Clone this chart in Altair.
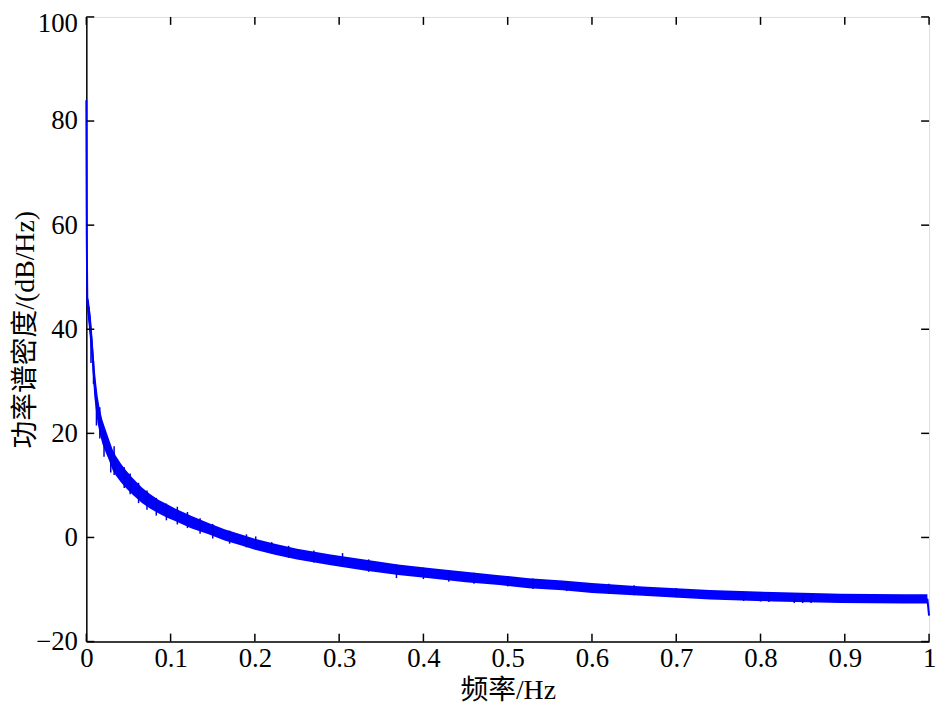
import altair as alt
import pandas as pd

# ---- data ----
band_freq = [0.0012, 0.003, 0.0055, 0.0075, 0.0095, 0.0115, 0.0135, 0.016, 0.019, 0.023,
             0.027, 0.031, 0.035, 0.041, 0.047, 0.055, 0.066, 0.076, 0.086, 0.096,
             0.106, 0.125, 0.145, 0.164, 0.184, 0.2, 0.225, 0.25, 0.29, 0.33,
             0.37, 0.41, 0.45, 0.49, 0.525, 0.565, 0.6, 0.66, 0.74, 0.815,
             0.895, 0.97, 0.998]
band_psd = [45, 43, 39, 35, 30, 27, 24.5, 22.3, 20.3, 18.5,
            16.8, 15, 13.8, 12.4, 11.2, 9.8, 8.1, 6.9, 5.9, 5.1,
            4.3, 2.9, 1.7, 0.5, -0.5, -1.3, -2.3, -3.2, -4.3, -5.3,
            -6.2, -6.9, -7.6, -8.2, -8.8, -9.2, -9.7, -10.3, -11.0, -11.4,
            -11.7, -11.8, -11.8]
band_half = [1.5, 2.5, 3.0, 3.0, 3.0, 2.8, 2.6, 2.4, 2.3, 2.2,
             2.0, 2.0, 1.9, 1.8, 1.7, 1.6, 1.5, 1.4, 1.3, 1.3,
             1.2, 1.2, 1.1, 1.1, 1.05, 1.05, 1.05, 1.05, 1.05, 1.05,
             1.0, 1.0, 1.0, 0.95, 0.95, 0.95, 0.95, 0.9, 0.9, 0.9,
             0.9, 0.9, 0.9]

# low-frequency spike and the final drop at f = 1
edge_freq = [0.0, 0.0005, 0.0012, 0.003, 0.0055, 0.998, 1.0]
edge_psd = [84, 58, 45, 44, 39, -11.8, -15]
edge_seg = ["start", "start", "start", "start", "start", "end", "end"]

# isolated noise spikes visible along the band
spike_freq = [0.0055, 0.0085, 0.012, 0.016, 0.021, 0.029, 0.033, 0.045, 0.052, 0.062,
              0.072, 0.083, 0.095, 0.108, 0.12, 0.135, 0.15, 0.17, 0.19, 0.201,
              0.22, 0.24, 0.27, 0.304, 0.335, 0.368, 0.4, 0.43, 0.46, 0.5,
              0.53, 0.57, 0.62, 0.65, 0.70, 0.78, 0.80, 0.81, 0.84, 0.85, 0.86]
spike_lo = [33.5, 29.5, 21.5, 19.0, 15.5, 12.5, 12.0, 9.5, 8.3, 6.6,
            5.3, 4.2, 3.3, 2.5, 1.8, 0.7, -0.2, -1.2, -1.9, -2.2,
            -3.1, -3.9, -4.8, -5.6, -6.6, -7.8, -8.0, -8.5, -8.9, -9.4,
            -9.9, -10.3, -10.8, -11.1, -11.5, -12.2, -12.3, -12.4, -12.6, -12.6, -12.6]
spike_hi = [39.0, 34.0, 27.0, 25.0, 20.5, 16.0, 17.5, 13.5, 12.3, 10.5,
            9.0, 7.6, 6.5, 5.9, 4.9, 3.7, 2.6, 1.3, 0.6, 0.2,
            -0.9, -1.6, -2.5, -3.0, -4.2, -5.2, -5.8, -6.4, -6.8, -7.4,
            -7.9, -8.4, -8.9, -9.2, -9.7, -10.5, -10.7, -10.6, -11.0, -11.0, -11.0]

x_ticks = [0, 0.1, 0.2, 0.3, 0.4, 0.5, 0.6, 0.7, 0.8, 0.9, 1.0]
y_ticks = [-20, 0, 20, 40, 60, 80, 100]

W, H = 850, 630
FONT = "'Liberation Serif', 'Times New Roman', 'Noto Sans CJK SC', serif"
BLUE = "#0000ff"

band = pd.DataFrame({"f": band_freq, "psd": band_psd, "h": band_half})
band["lo"] = band["psd"] - band["h"]
band["hi"] = band["psd"] + band["h"]
edge = pd.DataFrame({"f": edge_freq, "psd": edge_psd, "seg": edge_seg})
spikes = pd.DataFrame({"f": spike_freq, "lo": spike_lo, "hi": spike_hi})
xt = pd.DataFrame({"t": x_ticks})
yt = pd.DataFrame({"t": y_ticks})

xscale = alt.Scale(domain=[0, 1], nice=False, zero=False)
yscale = alt.Scale(domain=[-20, 100], nice=False, zero=False)

xaxis = alt.Axis(values=x_ticks, title="频率/Hz", ticks=False, grid=False, labelFlush=False,
                 labelExpr="datum.value == 0 ? '0' : datum.value == 1 ? '1' : format(datum.value, '.1f')",
                 labelFont=FONT, labelFontSize=27, labelColor="black", labelPadding=4,
                 titleFont=FONT, titleFontSize=28, titleFontWeight="normal", titleColor="black",
                 titleBaseline="top", titleY=35, titleX=W / 2,
                 domainColor="black", domainWidth=1.5)
yaxis = alt.Axis(values=y_ticks, title="功率谱密度/(dB/Hz)", ticks=False, grid=False, labelFlush=False,
                 labelOffset={"condition": {"test": "datum.value == 100", "value": 7}, "value": 0},
                 labelFont=FONT, labelFontSize=27, labelColor="black", labelPadding=9,
                 titleFont=FONT, titleFontSize=28, titleFontWeight="normal", titleColor="black",
                 titleAngle=270, titleAlign="center", titleBaseline="middle",
                 titleX=-61, titleY=H / 2,
                 domainColor="black", domainWidth=1.5)

area = alt.Chart(band).mark_area(color=BLUE, opacity=1, interpolate="linear").encode(
    x=alt.X("f:Q", scale=xscale, axis=xaxis),
    y=alt.Y("lo:Q", scale=yscale, axis=yaxis),
    y2="hi:Q",
)
centre = alt.Chart(band).mark_line(color=BLUE, strokeWidth=2).encode(
    x=alt.X("f:Q", scale=xscale), y=alt.Y("psd:Q", scale=yscale)
)
edges = alt.Chart(edge).mark_line(color=BLUE, strokeWidth=2).encode(
    x=alt.X("f:Q", scale=xscale), y=alt.Y("psd:Q", scale=yscale), detail="seg:N"
)
spk = alt.Chart(spikes).mark_rule(color="#0000d8", strokeWidth=1.5).encode(
    x=alt.X("f:Q", scale=xscale), y=alt.Y("lo:Q", scale=yscale), y2="hi:Q"
)

tick_len = 8
xt_bot = alt.Chart(xt).mark_rule(color="black", strokeWidth=1.5).encode(
    x=alt.X("t:Q", scale=xscale), y=alt.value(H), y2=alt.value(H - tick_len))
xt_top = alt.Chart(xt).mark_rule(color="black", strokeWidth=1.5).encode(
    x=alt.X("t:Q", scale=xscale), y=alt.value(0), y2=alt.value(tick_len))
yt_left = alt.Chart(yt).mark_rule(color="black", strokeWidth=1.5).encode(
    y=alt.Y("t:Q", scale=yscale), x=alt.value(0), x2=alt.value(tick_len))
yt_right = alt.Chart(yt).mark_rule(color="black", strokeWidth=1.5).encode(
    y=alt.Y("t:Q", scale=yscale), x=alt.value(W), x2=alt.value(W - tick_len))

chart = alt.layer(area, centre, edges, spk, xt_bot, xt_top, yt_left, yt_right).properties(
    width=W, height=H,
    autosize=alt.AutoSizeParams(type="none"),
    padding={"left": 79, "top": 6, "right": 8, "bottom": 65},
).configure_view(stroke="black", strokeWidth=1.5).configure(
    background="white", font=FONT
).configure_axis(labelFont=FONT, titleFont=FONT)

chart.save("out.html", embed_options={"renderer": "svg", "actions": False})
